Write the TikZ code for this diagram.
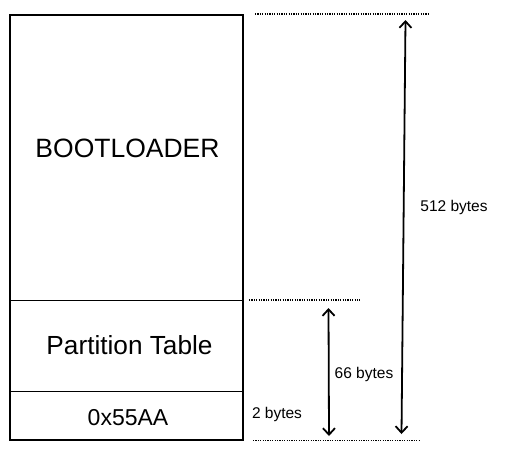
\documentclass[tikz,border=0pt]{standalone}
\usepackage{fontspec}
\setmainfont{Liberation Sans}
\usetikzlibrary{arrows.meta}
\begin{document}
\begin{tikzpicture}[x=1pt,y=-1pt,
  cell/.style={draw, line width=1.3pt, minimum width=232pt, inner sep=0pt, anchor=north west},
  dotline/.style={line width=1.2pt, dash pattern=on 1.2pt off 1.2pt},
  dim/.style={line width=1.8pt, {Straight Barb[length=6.5pt,width=12pt,line width=1.8pt]}-{Straight Barb[length=6.5pt,width=12pt,line width=1.8pt]}},
  lbl/.style={font=\fontsize{15.5}{18}\selectfont}
]
\useasboundingbox (0,0) rectangle (505,456);
\fill[white] (0,0) rectangle (505,456);
% cells
\node[cell, minimum height=285pt] (boot) at (10,15) {};
\node[cell, minimum height=91pt] (part) at (10,300) {};
\node[cell, minimum height=48pt] (sig) at (10,391) {};
\draw[line width=2pt] (boot.north west) rectangle (sig.south east);
\node[font=\fontsize{26.5}{30}\selectfont] (tboot) at (127.5,148) {BOOTLOADER};
\node[font=\fontsize{26.2}{30}\selectfont] (tpart) at (129.5,345) {Partition Table};
\node[font=\fontsize{23}{26}\selectfont] (tsig) at (128,418) {0x55AA};
% dotted guide lines
\coordinate (t1) at (255,14); \coordinate (t2) at (430,14);
\coordinate (m1) at (249,300); \coordinate (m2) at (360,300);
\coordinate (b1) at (253,440.5); \coordinate (b2) at (420,440.5);
\draw[dotline] (t1) -- (t2);
\draw[dotline] (m1) -- (m2);
\draw[dotline] (b1) -- (b2);
% dimension arrows
\coordinate (a1) at (405.5,20); \coordinate (a2) at (401.5,434);
\coordinate (c1) at (328.5,308); \coordinate (c2) at (329,436);
\draw[dim] (a1) -- (a2);
\draw[dim] (c1) -- (c2);
% labels
\node[lbl] (l512) at (454,207) {512 bytes};
\node[lbl] (l66) at (364,374) {66 bytes};
\node[lbl] (l2) at (277,414) {2 bytes};
\end{tikzpicture}
\end{document}
